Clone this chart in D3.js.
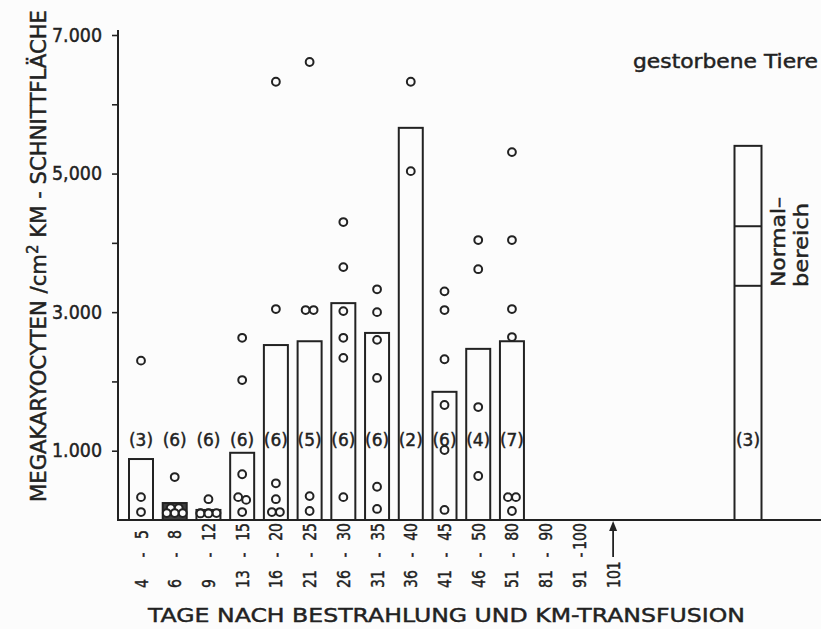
<!DOCTYPE html>
<html>
<head>
<meta charset="utf-8">
<script src="https://cdn.jsdelivr.net/npm/d3@7/dist/d3.min.js"></script>
<style>
  html, body { margin: 0; padding: 0; background: #fcfcfc; }
  svg { display: block; }
  text { font-family: "DejaVu Sans", "Liberation Sans", sans-serif; fill: #222; stroke: #222; stroke-width: 0.45px; }
</style>
</head>
<body>
<script>
// Day groups after irradiation and bone-marrow transfusion
const categories = ["4 - 5", "6 - 8", "9 - 12", "13 - 15", "16 - 20", "21 - 25", "26 - 30",
                    "31 - 35", "36 - 40", "41 - 45", "46 - 50", "51 - 80", "81 - 90", "91 - 100", "101"];

// Mean megakaryocyte count per cm² marrow section (bar heights)
const means = [880, 245, 145, 970, 2525, 2580, 3130, 2700, 5660, 1850, 2470, 2580, null, null, null];

// Number of animals per group
const counts = [3, 6, 6, 6, 6, 5, 6, 6, 2, 6, 4, 7, null, null, null];

// Individual animals per group
const pts45   = [2300, 330, 115];
const pts68   = [620, 170, 170, 100, 100, 100];
const pts912  = [300, 100, 100, 100, 95, 95];
const pts1315 = [2630, 2020, 660, 330, 290, 115];
const pts1620 = [6325, 3045, 530, 300, 115, 115];
const pts2125 = [6610, 3030, 3030, 345, 130];
const pts2630 = [4300, 3650, 3015, 2630, 2340, 330];
const pts3135 = [3330, 3000, 2600, 2050, 480, 160];
const pts3640 = [6325, 5035];
const pts4145 = [3300, 3030, 2320, 1660, 1010, 145];
const pts4650 = [4040, 3620, 1630, 635];
const pts5180 = [5310, 4040, 3045, 2640, 330, 330, 130];
const points = [pts45, pts68, pts912, pts1315, pts1620, pts2125, pts2630,
                pts3135, pts3640, pts4145, pts4650, pts5180, [], [], []];

// Normal range (animals that died): bar value and the two range marks
const normalMean = 5400;
const normalRange = [3380, 4240];
const normalCount = 3;

// Y axis ticks and their printed labels
const yTicks = [1000, 2000, 3000, 4000, 5000, 6000, 7000];
const yTickLabels = { 1000: "1.000", 3000: "3.000", 5000: "5,000", 7000: "7.000" };

const shadedGroups = ["6 - 8"];

const W = 821, H = 629;
const ink = "#222";
const svg = d3.select("body").append("svg").attr("width", W).attr("height", H);

const y = d3.scaleLinear().domain([0, 7000]).range([520, 35]);
// 15 day groups, 3 empty slots, then the normal-range column
const NORMAL_SLOT = 18;
const x = d3.scalePoint().domain(d3.range(NORMAL_SLOT + 1)).range([141, 748]);
const barW = 24;

// Y axis
const yAxis = d3.axisLeft(y).tickValues(yTicks).tickSize(6).tickPadding(10)
  .tickFormat(d => yTickLabels[d] || "");
const gy = svg.append("g").attr("transform", "translate(118,0)").call(yAxis);
gy.select(".domain").remove();
gy.selectAll(".tick line").attr("stroke", ink).attr("stroke-width", 1.6);
gy.selectAll(".tick text").attr("font-size", 19).attr("fill", ink)
  .attr("textLength", d => yTickLabels[d] ? 50 : null)
  .attr("lengthAdjust", "spacingAndGlyphs");
svg.append("line").attr("x1", 118).attr("x2", 118).attr("y1", 30).attr("y2", y(0))
  .attr("stroke", ink).attr("stroke-width", 2);

// Baseline
svg.append("line").attr("x1", 117).attr("x2", W).attr("y1", y(0)).attr("y2", y(0))
  .attr("stroke", ink).attr("stroke-width", 2);

// Group bars
const barData = categories.map((c, i) => ({ c, i, v: means[i] })).filter(d => d.v != null);
svg.append("g").selectAll("rect").data(barData).join("rect")
  .attr("x", d => x(d.i) - barW / 2)
  .attr("width", barW)
  .attr("y", d => y(d.v))
  .attr("height", d => y(0) - y(d.v))
  .attr("fill", d => shadedGroups.includes(d.c) ? "#3f3f3f" : "none")
  .attr("stroke", ink).attr("stroke-width", 2);

// Animal counts
const countData = categories.map((c, i) => ({ i, n: counts[i] })).filter(d => d.n != null);
svg.append("g").selectAll("text").data(countData).join("text")
  .attr("x", d => x(d.i)).attr("y", 446)
  .attr("text-anchor", "middle").attr("font-size", 17)
  .text(d => `(${d.n})`);

// Individual values, spread sideways where circles would overlap
const dots = [];
points.forEach((vals, i) => {
  const sorted = vals.slice().sort((a, b) => b - a);
  let cluster = [];
  const flush = () => {
    const cols = Math.min(cluster.length, 3);
    cluster.forEach((v, k) => {
      dots.push({ i, v, dx: ((k % cols) - (cols - 1) / 2) * 8 });
    });
    cluster = [];
  };
  sorted.forEach(v => {
    if (cluster.length && Math.abs(y(v) - y(cluster[0])) >= 4) flush();
    cluster.push(v);
  });
  if (cluster.length) flush();
});
svg.append("g").selectAll("circle").data(dots).join("circle")
  .attr("cx", d => x(d.i) + d.dx)
  .attr("cy", d => y(d.v))
  .attr("r", 3.9)
  .attr("fill", "#fcfcfc")
  .attr("stroke", ink).attr("stroke-width", 2);

// X tick labels, rotated, laid out as "from - to"
const gx = svg.append("g");
const tickFont = 18, squeeze = 0.78;
categories.forEach((c, i) => {
  const cx = x(i) + 6.5;
  const parts = c.split(" - ");
  const rot = (yy) => `translate(${cx},${yy}) rotate(-90) scale(${squeeze},1)`;
  gx.append("text").attr("transform", rot(588)).attr("font-size", tickFont).text(parts[0]);
  if (parts.length > 1) {
    gx.append("text").attr("transform", rot(555)).attr("font-size", tickFont)
      .attr("text-anchor", "middle").text("-");
    const upper = gx.append("text").attr("font-size", tickFont).text(parts[1]);
    // keep the upper number clear of the baseline
    const len = upper.node().getComputedTextLength() * squeeze;
    upper.attr("transform", rot(Math.max(539, 523 + len)));
  } else {
    // open-ended last group: arrow pointing up
    gx.append("line").attr("x1", x(i)).attr("x2", x(i)).attr("y1", 557).attr("y2", 528)
      .attr("stroke", ink).attr("stroke-width", 1.8);
    gx.append("path")
      .attr("d", `M${x(i) - 4},${531} L${x(i)},${521} L${x(i) + 4},${531} Z`)
      .attr("fill", ink);
  }
});

// Normal-range column
const nx = x(NORMAL_SLOT);
const nW = 27;
svg.append("rect").attr("x", nx - nW / 2).attr("width", nW)
  .attr("y", y(normalMean)).attr("height", y(0) - y(normalMean))
  .attr("fill", "none").attr("stroke", ink).attr("stroke-width", 2);
svg.append("g").selectAll("line").data(normalRange).join("line")
  .attr("x1", nx - nW / 2).attr("x2", nx + nW / 2)
  .attr("y1", d => y(d)).attr("y2", d => y(d))
  .attr("stroke", ink).attr("stroke-width", 2);
svg.append("text").attr("x", nx).attr("y", 446).attr("text-anchor", "middle")
  .attr("font-size", 17).text(`(${normalCount})`);
svg.append("text").attr("transform", `translate(785,287) rotate(-90)`)
  .attr("font-size", 19).attr("textLength", 90).attr("lengthAdjust", "spacingAndGlyphs")
  .text("Normal–");
svg.append("text").attr("transform", `translate(808,287) rotate(-90)`)
  .attr("font-size", 19).attr("textLength", 84).attr("lengthAdjust", "spacingAndGlyphs")
  .text("bereich");

svg.append("text").attr("x", 633).attr("y", 68).attr("font-size", 19)
  .attr("textLength", 185).attr("lengthAdjust", "spacingAndGlyphs")
  .text("gestorbene  Tiere");

// Axis titles
const yTitle = svg.append("text").attr("transform", "translate(46,502) rotate(-90)")
  .attr("font-size", 21).attr("textLength", 492).attr("lengthAdjust", "spacingAndGlyphs");
yTitle.append("tspan").text("MEGAKARYOCYTEN /cm");
yTitle.append("tspan").attr("dy", -8).attr("font-size", 15).text("2");
yTitle.append("tspan").attr("dy", 8).text(" KM - SCHNITTFLÄCHE");

svg.append("text").attr("x", 148).attr("y", 622).attr("font-size", 20)
  .attr("textLength", 597).attr("lengthAdjust", "spacingAndGlyphs")
  .text("TAGE NACH BESTRAHLUNG UND KM-TRANSFUSION");
</script>
</body>
</html>
